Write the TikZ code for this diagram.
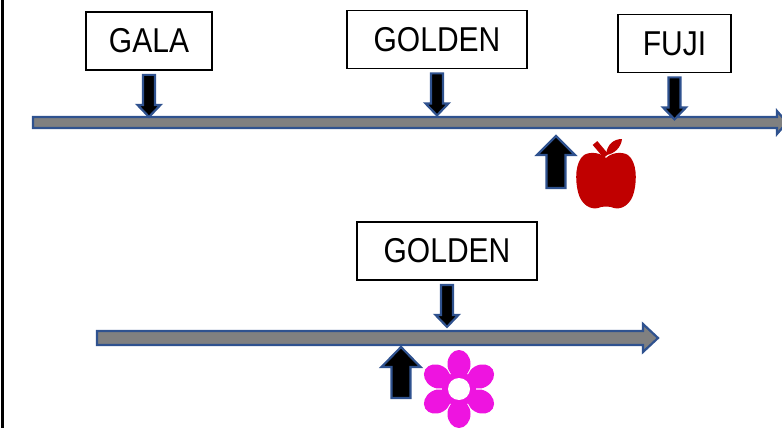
\documentclass[tikz,border=0pt]{standalone}
\usepackage{fontspec}
\setmainfont{Liberation Sans}
\usetikzlibrary{calc}
\definecolor{outlineblue}{RGB}{47,82,143}
\definecolor{applered}{RGB}{192,0,0}
\definecolor{flowerpink}{RGB}{238,20,224}
\tikzset{
  namebox/.style  = {shape=rectangle, draw, line width=1.8pt,
                     minimum height=58pt, inner sep=0pt,
                     font=\fontsize{30}{36}\selectfont},
  blockarr/.style = {draw=outlineblue, line width=2.2pt, fill=black},
  timeline/.style = {blockarr, fill=gray}
}
\newcommand{\tallname}[1]{\scalebox{1}[1.15]{#1}}
% vertical block arrow: tail, tip, half shaft, half head, head length
\newcommand{\vblock}[5]{%
  \draw[blockarr] let \p1=(#1), \p2=(#2), \p3=($(#2)!#5!(#1)$) in
    (\x2-#3,\y1) -- (\x2-#3,\y3) -- (\x2-#4,\y3) -- (\x2,\y2)
    -- (\x2+#4,\y3) -- (\x2+#3,\y3) -- (\x2+#3,\y1) -- cycle;}
% horizontal one for the time lines
\newcommand{\hblock}[5]{%
  \draw[timeline] let \p1=(#1), \p2=(#2), \p3=($(#2)!#5!(#1)$) in
    (\x1,\y2-#3) -- (\x3,\y2-#3) -- (\x3,\y2-#4) -- (\x2,\y2)
    -- (\x3,\y2+#4) -- (\x3,\y2+#3) -- (\x1,\y2+#3) -- cycle;}

\begin{document}
\begin{tikzpicture}[x=1pt, y=-1pt]
  \useasboundingbox (0,0) rectangle (782,428);
  \draw[line width=3pt] (2,0) -- (2,428);

  % upper line
  \coordinate (tlA) at (33,122.5);
  \coordinate (tlB) at (787,122.5);
  \hblock{tlA}{tlB}{5.5pt}{11.5pt}{10pt}

  \node[namebox, minimum width=126pt] (gala)   at (149,41)     {\tallname{GALA}};
  \node[namebox, minimum width=180pt] (golden) at (437,39.5)   {\tallname{GOLDEN}};
  \node[namebox, minimum width=113pt] (fuji)   at (674.5,43.5) {\tallname{FUJI}};

  \foreach \n in {gala,golden,fuji}{
    \coordinate (arrT) at ($(\n.south)+(0,4)$);
    \coordinate (arrH) at ($(\n.south)+(0,46)$);
    \vblock{arrT}{arrH}{6pt}{11.5pt}{12pt}
  }

  % apple
  \coordinate (apple) at (606,180);
  \begin{scope}[shift={(apple)}, yscale=-1]
    \fill[applered] (0,22) .. controls (5,27) and (15,29) .. (22,25)
      .. controls (31,18) and (31,0) .. (28,-12)
      .. controls (25,-25) and (15,-30) .. (8,-28)
      .. controls (4,-26) and (-4,-26) .. (-8,-28)
      .. controls (-15,-30) and (-25,-25) .. (-28,-12)
      .. controls (-31,0) and (-31,18) .. (-22,25)
      .. controls (-15,29) and (-5,27) .. (0,22) -- cycle;
    \draw[applered, line width=6pt] (-11,37) -- (0,24);
    \fill[applered] (0,25) .. controls (1,36) and (8,41) .. (16,41)
      .. controls (15,32) and (8,26) .. (0,25) -- cycle;
  \end{scope}
  \coordinate (appleT) at ($(apple)+(-50,8)$);
  \coordinate (appleH) at ($(apple)+(-50,-44)$);
  \vblock{appleT}{appleH}{9.5pt}{19pt}{19pt}

  % lower line
  \coordinate (tlC) at (97,338);
  \coordinate (tlD) at (658,338);
  \hblock{tlC}{tlD}{7pt}{14pt}{15pt}

  \node[namebox, minimum width=180pt] (goldenB) at (447,251) {\tallname{GOLDEN}};
  \coordinate (goldenBT) at ($(goldenB.south)+(0,4)$);
  \coordinate (goldenBH) at ($(goldenB.south)+(0,46)$);
  \vblock{goldenBT}{goldenBH}{6pt}{11.5pt}{12pt}

  % flower
  \coordinate (flower) at (459,389);
  \foreach \a in {30,90,...,330}
    \fill[flowerpink, shift={(flower)}, rotate=\a] (25,0) ellipse (14 and 11.5);
  \fill[flowerpink] (flower) circle (17);
  \fill[white] (flower) circle (11);
  \coordinate (flowerT) at ($(flower)+(-58,9)$);
  \coordinate (flowerH) at ($(flower)+(-58,-42)$);
  \vblock{flowerT}{flowerH}{9.5pt}{19.5pt}{20pt}
\end{tikzpicture}
\end{document}
